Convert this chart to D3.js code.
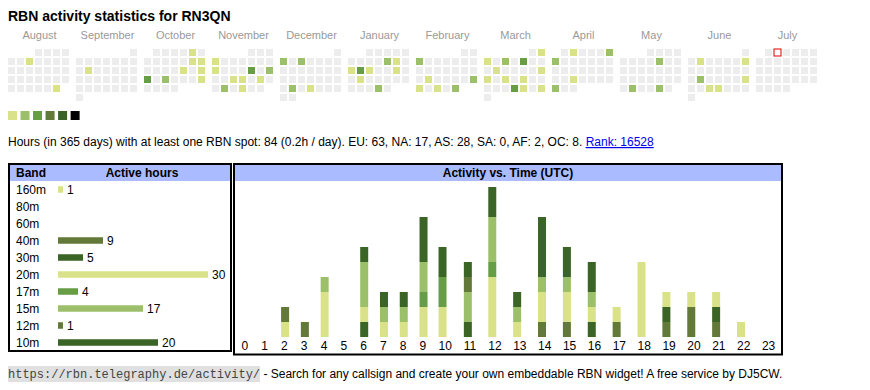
<!DOCTYPE html>
<html><head><meta charset="utf-8">
<script src="https://cdn.jsdelivr.net/npm/d3@7"></script>
<style>
body{margin:0;background:#fff;}
svg{display:block;font-family:"Liberation Sans",Arial,Helvetica,sans-serif;}
</style></head><body>
<svg id="c" width="870" height="390"></svg>
<script>
// ---------- data ----------
const title = "RBN activity statistics for RN3QN";
const monthNames = ["August","September","October","November","December","January","February","March","April","May","June","July"];
const firstMonth = "2024-08-01";
const today = "2025-07-02";
// active days: [date, colour level 1..5]
const activeDays = [
  ["2024-08-07",1],["2024-08-31",1],
  ["2024-09-10",1],
  ["2024-10-05",1],["2024-10-12",1],["2024-10-13",1],["2024-10-18",1],["2024-10-20",1],["2024-10-21",3],["2024-10-23",2],["2024-10-27",1],
  ["2024-11-04",1],["2024-11-11",1],["2024-11-15",3],["2024-11-17",2],["2024-11-20",1],["2024-11-21",1],["2024-11-23",1],["2024-11-26",2],["2024-11-28",1],
  ["2024-12-02",2],["2024-12-04",2],["2024-12-24",2],["2024-12-26",1],
  ["2025-01-10",2],["2025-01-11",1],["2025-01-13",1],["2025-01-14",3],["2025-01-15",1],["2025-01-18",1],["2025-01-21",1],["2025-01-30",2],
  ["2025-02-03",2],["2025-02-18",1],["2025-02-23",2],["2025-02-24",1],["2025-02-26",1],["2025-02-28",2],
  ["2025-03-02",1],["2025-03-03",1],["2025-03-05",2],["2025-03-07",3],["2025-03-11",1],["2025-03-16",1],["2025-03-17",1],["2025-03-19",1],["2025-03-21",1],["2025-03-27",3],["2025-03-28",1],["2025-03-30",1],
  ["2025-04-02",1],["2025-04-06",2],["2025-04-07",2],["2025-04-23",1],["2025-04-28",2],
  ["2025-05-09",2],["2025-05-27",2],["2025-05-30",2],
  ["2025-06-03",1],["2025-06-08",1],["2025-06-17",2],["2025-06-22",1],["2025-06-25",1],["2025-06-26",1]
];
const legendLevels = [1,2,3,4,5,6];
const levelColors = ["#dae289","#9cc069","#669d45","#637939","#3b6427","#000000"];

const summaryText = "Hours (in 365 days) with at least one RBN spot: 84 (0.2h / day). EU: 63, NA: 17, AS: 28, SA: 0, AF: 2, OC: 8. ";
const rankText = "Rank: 16528";

const bands      = ["160m","80m","60m","40m","30m","20m","17m","15m","12m","10m"];
const bandHours  = [1,0,0,9,5,30,4,17,1,20];
const bandColors = ["#dae289","#9cc069","#669d45","#637939","#3b6427","#dae289","#669d45","#9cc069","#637939","#3b6427"];

const hourLabels = ["0","1","2","3","4","5","6","7","8","9","10","11","12","13","14","15","16","17","18","19","20","21","22","23"];
// active hours per band for each UTC hour 0..23
const h160m = [0,0,1,0,0,0,0,0,0,0,0,0,0,0,0,0,0,0,0,0,0,0,0,0];
const h80m  = [0,0,0,0,0,0,0,0,0,0,0,0,0,0,0,0,0,0,0,0,0,0,0,0];
const h60m  = [0,0,0,0,0,0,0,0,0,0,0,0,0,0,0,0,0,0,0,0,0,0,0,0];
const h40m  = [0,0,1,1,0,0,0,0,0,0,0,0,0,0,1,1,0,1,0,1,2,1,0,0];
const h30m  = [0,0,0,0,0,0,1,0,0,0,0,1,0,0,0,0,1,0,0,1,0,1,0,0];
const h20m  = [0,0,0,0,3,0,1,1,1,2,2,0,4,1,2,2,1,1,5,1,1,1,1,0];
const h17m  = [0,0,0,0,0,0,0,0,0,1,2,0,1,0,0,0,0,0,0,0,0,0,0,0];
const h15m  = [0,0,0,0,1,0,3,1,1,2,0,2,3,1,1,1,1,0,0,0,0,0,0,0];
const h12m  = [0,0,0,0,0,0,0,0,0,0,0,1,0,0,0,0,0,0,0,0,0,0,0,0];
const h10m  = [0,0,0,0,0,0,1,1,1,3,2,1,2,1,4,2,2,0,0,0,0,0,0,0];
const hourSeries = [h160m,h80m,h60m,h40m,h30m,h20m,h17m,h15m,h12m,h10m];

const footerUrl = "https://rbn.telegraphy.de/activity/";
const footerText = " - Search for any callsign and create your own embeddable RBN widget! A free service by DJ5CW.";

// ---------- drawing ----------
const svg = d3.select("#c");
const FONT = 12;

svg.append("text").attr("x", 8).attr("y", 20.5)
  .attr("font-size", 14).attr("font-weight", "bold").attr("fill", "#000").text(title);

// calendar
const parse = d3.timeParse("%Y-%m-%d");
const fmt = d3.timeFormat("%Y-%m-%d");
const start = parse(firstMonth);
const months = d3.timeMonths(start, d3.timeMonth.offset(start, 12));
const levelOf = new Map(activeDays.map(d => [d[0], d[1]]));
const xMonth = d3.scaleBand().domain(monthNames).range([8, 8 + 68 * 12 - 5]).paddingInner(5 / 68).paddingOuter(0);
const xCol = d3.scaleLinear().domain([0, 6]).range([0, 54]);
const yRow = d3.scaleLinear().domain([0, 5]).range([49, 94]);
const cellColor = d3.scaleOrdinal().domain(legendLevels).range(levelColors);

months.forEach((m, i) => {
  const name = monthNames[i];
  const x0 = xMonth(name);
  svg.append("text").attr("x", x0 + xMonth.bandwidth() / 2).attr("y", 38.5)
    .attr("text-anchor", "middle").attr("font-size", 11).attr("fill", "#999").text(name);
  const firstCol = (m.getDay() + 6) % 7;
  const days = d3.timeDays(m, d3.timeMonth.offset(m, 1));
  svg.append("g").selectAll("rect").data(days).join("rect")
    .attr("x", d => x0 + xCol((d.getDay() + 6) % 7))
    .attr("y", d => yRow(Math.floor((d.getDate() - 1 + firstCol) / 7)))
    .attr("width", 7).attr("height", 7)
    .attr("fill", d => levelOf.has(fmt(d)) ? cellColor(levelOf.get(fmt(d))) : (fmt(d) === today ? "#fff" : "#ededed"))
    .attr("stroke", d => fmt(d) === today ? "#e00000" : "none")
    .attr("stroke-width", 1);
});

// legend
const xLeg = d3.scaleBand().domain(legendLevels).range([8, 8 + 12 * 6]).paddingInner(0.25).paddingOuter(0);
svg.append("g").selectAll("rect").data(legendLevels).join("rect")
  .attr("x", d => xLeg(d)).attr("y", 111).attr("width", 9).attr("height", 9)
  .attr("fill", d => cellColor(d));

// summary line
const sum = svg.append("text").attr("x", 8).attr("y", 146).attr("font-size", FONT).attr("fill", "#000");
sum.append("tspan").text(summaryText);
sum.append("tspan").attr("fill", "#0000ee").attr("text-decoration", "underline").text(rankText);

// ---------- band table ----------
svg.append("rect").attr("x", 10).attr("y", 165).attr("width", 220).attr("height", 16).attr("fill", "#aabbff");
svg.append("rect").attr("x", 9).attr("y", 164).attr("width", 222).attr("height", 187)
  .attr("fill", "none").attr("stroke", "#000").attr("stroke-width", 2);
svg.append("text").attr("x", 16).attr("y", 177).attr("font-size", FONT).attr("font-weight", "bold").text("Band");
svg.append("text").attr("x", 142).attr("y", 177).attr("font-size", FONT).attr("font-weight", "bold")
  .attr("text-anchor", "middle").text("Active hours");

const yBand = d3.scaleBand().domain(bands).range([181, 351]);
const xHours = d3.scaleLinear().domain([0, 30]).range([58, 208]);
const rows = svg.append("g").selectAll("g").data(bands).join("g")
  .attr("transform", d => `translate(0,${yBand(d) + yBand.bandwidth() / 2})`);
rows.append("text").attr("x", 16).attr("y", 4).attr("font-size", FONT).text(d => d);
rows.each(function (d, i) {
  if (bandHours[i] > 0) {
    const g = d3.select(this);
    g.append("rect").attr("x", xHours(0)).attr("y", -3.25)
      .attr("width", xHours(bandHours[i]) - xHours(0)).attr("height", 6.5).attr("fill", bandColors[i]);
    g.append("text").attr("x", xHours(bandHours[i]) + 4).attr("y", 4).attr("font-size", FONT).text(bandHours[i]);
  }
});

// ---------- activity vs time ----------
svg.append("rect").attr("x", 235).attr("y", 165).attr("width", 546).attr("height", 16).attr("fill", "#aabbff");
svg.append("rect").attr("x", 234).attr("y", 164).attr("width", 548).attr("height", 190.5)
  .attr("fill", "none").attr("stroke", "#000").attr("stroke-width", 2);
svg.append("text").attr("x", 508).attr("y", 177).attr("font-size", FONT).attr("font-weight", "bold")
  .attr("text-anchor", "middle").text("Activity vs. Time (UTC)");

// table-like column layout: wider columns for two-digit labels
const colWeight = l => l.length + 2.88;
const cum = [];
hourLabels.reduce((acc, l, i) => { cum[i] = acc; return acc + colWeight(l); }, 0);
const totalW = d3.sum(hourLabels, colWeight);
const xCols = d3.scaleLinear().domain([0, totalW]).range([235, 781]);
const colCenter = d3.scaleOrdinal().domain(hourLabels)
  .range(hourLabels.map((l, i) => xCols(cum[i] + colWeight(l) / 2)));

const yAct = d3.scaleLinear().domain([0, 10]).range([337, 187]);

const labels = svg.append("g").selectAll("text").data(hourLabels).join("text")
  .attr("x", d => colCenter(d)).attr("y", 350).attr("text-anchor", "middle")
  .attr("font-size", FONT).text(d => d);
const labelW = {};
labels.each(function (d) { labelW[d] = this.getComputedTextLength(); });

const table = hourLabels.map((l, i) => {
  const o = { hour: l };
  bands.forEach((b, j) => { o[b] = hourSeries[j][i]; });
  return o;
});
const stacked = d3.stack().keys(bands)(table);
const bandColor = d3.scaleOrdinal().domain(bands).range(bandColors);
svg.append("g").selectAll("g").data(stacked).join("g")
  .attr("fill", s => bandColor(s.key))
  .selectAll("rect").data(s => s.filter(p => p[1] > p[0])).join("rect")
  .attr("x", p => colCenter(p.data.hour) - labelW[p.data.hour] / 2)
  .attr("y", p => yAct(p[1]))
  .attr("width", 8)
  .attr("height", p => yAct(p[0]) - yAct(p[1]));

// ---------- footer ----------
const fg = svg.append("g");
const bg = fg.append("rect").attr("fill", "#e0e0e0");
const code = fg.append("text").attr("x", 8).attr("y", 378)
  .attr("font-family", "'Liberation Mono','DejaVu Sans Mono',monospace").attr("font-size", 12)
  .attr("fill", "#444").text(footerUrl);
const bb = code.node().getBBox();
bg.attr("x", bb.x).attr("y", 366).attr("width", bb.width).attr("height", 16);
fg.append("text").attr("x", bb.x + bb.width).attr("y", 378).attr("font-size", FONT)
  .attr("xml:space", "preserve").style("white-space", "pre").attr("fill", "#000").text(footerText);
</script>
</body></html>
